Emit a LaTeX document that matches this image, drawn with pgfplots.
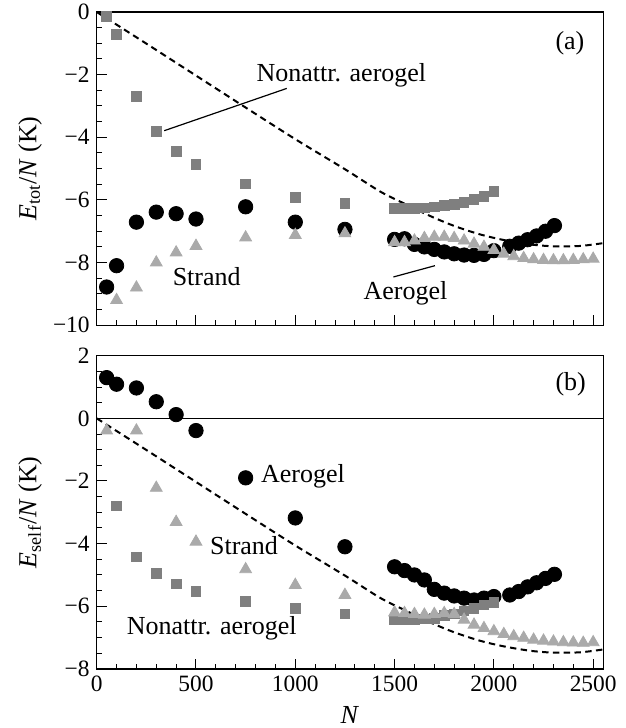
\documentclass[border=0pt]{standalone}
\usepackage{pgfplots}
\pgfplotsset{compat=1.18}
\usepackage{pgfplotstable}
\usepackage{fontspec}
\setmainfont{Liberation Serif}
\definecolor{sqgray}{RGB}{127,127,127}
\definecolor{trgray}{RGB}{170,170,170}

% dashed reference curve (same in both panels)
\pgfplotstableread{
N E
0 0
250 -1.01
500 -2.03
750 -3.05
1000 -4.06
1250 -5.02
1427 -5.73
1550 -6.12
1678 -6.51
1800 -6.83
1930 -7.10
2050 -7.28
2182 -7.42
2300 -7.48
2434 -7.47
2550 -7.38
}\dashedcurve

\pgfplotsset{
  panel/.style={
    scale only axis,
    width=253.2pt, height=156.6pt,
    xmin=0, xmax=2550,
    xtick={0,500,...,2500},
    minor x tick num=4,
    minor y tick num=3,
    tick align=inside,
    tick pos=left,
    major tick length=5pt,
    minor tick length=2.5pt,
    axis line style={line width=0.6pt},
    every tick/.style={black, line width=0.5pt},
    tick label style={font=\fontsize{11.7}{13}\selectfont},
    label style={font=\fontsize{13}{15}\selectfont},
    /pgf/number format/assume math mode=true,
    /pgf/number format/1000 sep={},
    ylabel style={at={(axis description cs:-0.1317,0.5)}, anchor=center},
    clip=false,
  },
  circ/.style={only marks, mark=*, mark size=3.6pt, mark options={fill=black, draw=black}},
  sq/.style={only marks, mark=square*, mark size=2.4pt, mark options={fill=sqgray, draw=sqgray}},
  tri/.style={only marks, mark=triangle*, mark size=3.4pt, mark options={fill=trgray, draw=trgray}},
  dashcurve/.style={black, line width=1pt, dash pattern=on 3.2pt off 2.2pt, smooth, no marks},
}

\begin{document}
\begin{tikzpicture}
\path[use as bounding box] (-48.35pt,6pt) rectangle (264.65pt,-358pt);

% ---------------- panel (a)
\begin{axis}[panel,
  at={(0,0)}, anchor=north west,
  ymin=-10, ymax=0,
  ytick={-10,-8,...,0},
  yticklabels={−10,−8,−6,−4,−2,0},
  xticklabels={},
  ylabel={\textit{E}\textsubscript{tot}/\textit{N} (K)},
]
\addplot[circ] coordinates {
(50,-8.78) (100,-8.1) (200,-6.71) (300,-6.39) (400,-6.44) (500,-6.61)
(750,-6.22) (1000,-6.71) (1250,-6.94)
(1500,-7.26) (1550,-7.24) (1600,-7.42) (1650,-7.50) (1700,-7.58) (1750,-7.66)
(1800,-7.72) (1850,-7.76) (1900,-7.77) (1950,-7.74) (2000,-7.62)
(2080,-7.48) (2125,-7.38) (2170,-7.27) (2215,-7.15) (2260,-7.0) (2305,-6.82)
};
\addplot[sq] coordinates {
(50,-0.15) (100,-0.71) (200,-2.7) (300,-3.82) (400,-4.46) (500,-4.86)
(750,-5.49) (1000,-5.92) (1250,-6.11)
(1500,-6.27) (1550,-6.27) (1600,-6.27) (1650,-6.25) (1700,-6.22) (1750,-6.17)
(1800,-6.14) (1850,-6.08) (1900,-5.98) (1950,-5.88) (2000,-5.72)
};
\addplot[tri] coordinates {
(100,-9.2) (200,-8.8) (300,-8.0) (400,-7.68) (500,-7.47) (750,-7.2)
(1000,-7.12) (1250,-7.07)
(1500,-7.35) (1550,-7.35) (1600,-7.3) (1650,-7.22) (1700,-7.18) (1750,-7.18)
(1800,-7.22) (1850,-7.3) (1900,-7.4) (1950,-7.5) (2000,-7.6) (2050,-7.72)
(2100,-7.8) (2150,-7.86) (2200,-7.9) (2250,-7.92) (2300,-7.93) (2350,-7.93)
(2400,-7.92) (2450,-7.9) (2500,-7.88)
};
\addplot[dashcurve] table[x=N, y=E] {\dashedcurve};

\draw[line width=0.6pt] (axis cs:340,-3.79) -- (axis cs:957,-2.44);
\draw[line width=0.6pt] (axis cs:1494,-8.46) -- (axis cs:1703,-8.1);
\begin{scope}[every node/.style={font=\fontsize{13}{15}\selectfont, inner sep=0pt}]
\node at (axis cs:1232,-2.01) {Nonattr. aerogel};
\node at (axis cs:554,-8.46) {Strand};
\node at (axis cs:1555,-8.99) {Aerogel};
\node at (axis cs:2383,-1.0) {(a)};
\end{scope}
\end{axis}

% ---------------- panel (b)
\begin{axis}[panel,
  at={(0,-171.85pt)}, anchor=north west,
  ymin=-8, ymax=2,
  ytick={-8,-6,...,2},
  yticklabels={−8,−6,−4,−2,0,2},
  xlabel={\textit{N}},
  xlabel style={at={(axis description cs:0.5,0)}, yshift=-23pt, anchor=center},
  ylabel={\textit{E}\textsubscript{self}/\textit{N} (K)},
]
\addplot[black, line width=0.6pt, no marks] coordinates {(0,0) (2550,0)};
\addplot[circ] coordinates {
(50,1.3) (100,1.09) (200,0.97) (300,0.53) (400,0.12) (500,-0.39)
(750,-1.9) (1000,-3.18) (1250,-4.1)
(1500,-4.74) (1550,-4.86) (1600,-5.0) (1650,-5.16) (1700,-5.46) (1750,-5.58)
(1800,-5.67) (1850,-5.74) (1900,-5.8) (1950,-5.74) (2000,-5.69)
(2080,-5.64) (2125,-5.53) (2170,-5.38) (2215,-5.25) (2260,-5.11) (2305,-4.98)
};
\addplot[sq] coordinates {
(100,-2.8) (200,-4.42) (300,-4.95) (400,-5.29) (500,-5.53)
(750,-5.85) (1000,-6.06) (1250,-6.24)
(1500,-6.41) (1550,-6.41) (1600,-6.41) (1650,-6.4) (1700,-6.38) (1750,-6.3)
(1800,-6.24) (1850,-6.15) (1900,-6.06) (1950,-5.96) (2000,-5.88)
};
\addplot[tri] coordinates {
(50,-0.39) (200,-0.39) (300,-2.22) (400,-3.31) (500,-3.94) (750,-4.82)
(1000,-5.32) (1250,-5.64)
(1500,-6.2) (1550,-6.22) (1600,-6.25) (1650,-6.27) (1700,-6.25) (1750,-6.22)
(1800,-6.25) (1850,-6.43) (1900,-6.59) (1950,-6.7) (2000,-6.8) (2050,-6.89)
(2100,-6.96) (2150,-7.01) (2200,-7.07) (2250,-7.1) (2300,-7.13) (2350,-7.15)
(2400,-7.16) (2450,-7.17) (2500,-7.15)
};
\addplot[dashcurve] table[x=N, y=E] {\dashedcurve};

\begin{scope}[every node/.style={font=\fontsize{13}{15}\selectfont, inner sep=0pt}]
\node at (axis cs:2387,1.09) {(b)};
\node at (axis cs:1039,-1.85) {Aerogel};
\node at (axis cs:742,-4.05) {Strand};
\node at (axis cs:579,-6.7) {Nonattr. aerogel};
\end{scope}
\end{axis}
\end{tikzpicture}
\end{document}
